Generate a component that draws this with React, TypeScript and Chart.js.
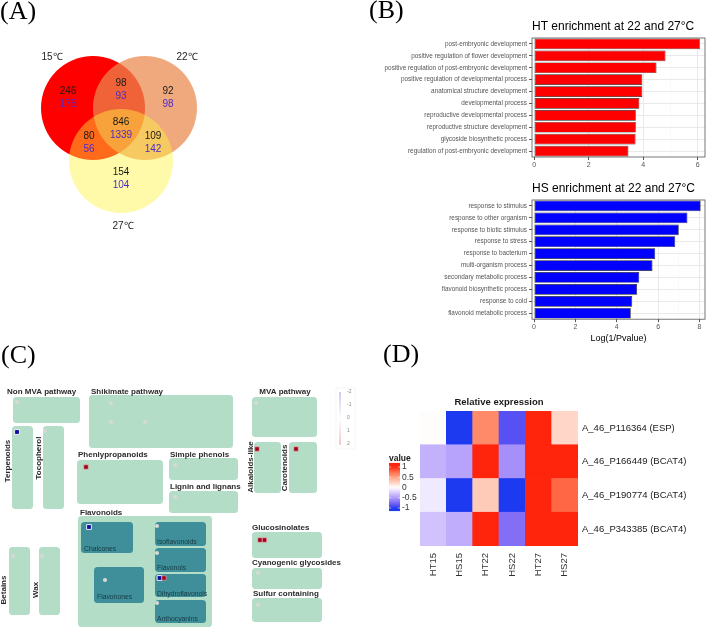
import React, { useEffect, useRef } from "react";
import { Chart, registerables } from "chart.js";

Chart.register(...registerables);

const FONT = "'Liberation Sans', Arial, Helvetica, sans-serif";
const SERIF = "'Liberation Serif', 'Times New Roman', serif";

// ---------------- Panel A : Venn ----------------
const vennSets = ["15℃", "22℃", "27℃"];
const vennCenterX = [93, 145, 121];
const vennCenterY = [108, 108, 161];
const vennRadius = [52, 52, 52];
const vennColors = ["rgba(255,0,0,1)", "rgba(234,136,77,0.73)", "rgba(255,243,61,0.44)"];
const vennSetLabelX = [52, 187, 123];
const vennSetLabelY = [57, 57, 226];
const vennRegionX = [68, 121, 168, 121, 89, 153, 121];
const vennRegionY = [91, 83, 91, 122, 136, 136, 172];
const vennCountsTop = [246, 98, 92, 846, 80, 109, 154];
const vennCountsBottom = [175, 93, 98, 1339, 56, 142, 104];

// ---------------- Panel B : enrichment ----------------
const htTerms = [
  "post-embryonic development",
  "positive regulation of flower development",
  "positive regulation of post-embryonic development",
  "positive regulation of developmental process",
  "anatomical structure development",
  "developmental process",
  "reproductive developmental process",
  "reproductive structure development",
  "glycoside biosynthetic process",
  "regulation of post-embryonic development",
];
const htValues = [6.08, 4.82, 4.49, 3.97, 3.97, 3.86, 3.73, 3.73, 3.72, 3.46];
const hsTerms = [
  "response to stimulus",
  "response to other organism",
  "response to biotic stimulus",
  "response to stress",
  "response to bacterium",
  "multi-organism process",
  "secondary metabolic process",
  "flavonoid biosynthetic process",
  "response to cold",
  "flavonoid metabolic process",
];
const hsValues = [8.06, 7.42, 7.0, 6.83, 5.86, 5.73, 5.09, 4.98, 4.75, 4.68];

// ---------------- Panel C : pathway map ----------------
const pwLightBoxes = [
  [13, 397, 80, 423], [89, 395, 233, 448], [252, 397, 317, 437],
  [12, 426, 33, 509], [43, 426, 64, 509], [77, 460, 163, 504],
  [169, 458, 238, 480], [169, 491, 238, 513], [254, 442, 281, 493],
  [289, 442, 317, 493], [78, 516, 212, 627], [9, 547, 30, 615],
  [39, 547, 60, 615], [252, 532, 322, 558], [252, 568, 322, 589],
  [252, 598, 322, 622],
];
const pwDarkBoxes = [
  [81, 522, 133, 553], [155, 522, 206, 546], [155, 548, 206, 572],
  [155, 574, 206, 597], [155, 600, 206, 623], [94, 567, 144, 603],
];
const pwTitles = [
  "Non MVA pathway", "Shikimate pathway", "Phenlypropanoids", "Simple phenols",
  "Lignin and lignans", "Flavonoids", "Glucosinolates", "Cyanogenic glycosides",
  "Sulfur containing",
];
const pwTitleX = [7, 91, 78, 170, 170, 80, 252, 252, 253];
const pwTitleY = [392, 392, 455, 455, 487, 513, 528, 563, 594];
const pwCenterTitles = ["MVA pathway"];
const pwCenterTitleX = [285];
const pwCenterTitleY = [392];
const pwVertTitles = ["Terpenoids", "Tocopherol", "Alkaloids-like", "Carotenoids", "Betains", "Wax"];
const pwVertX = [8, 39, 251, 285, 4, 36];
const pwVertY = [461, 458, 467, 468, 590, 590];
const pwSubTitles = ["Chalcones", "Isoflavonoids", "Flavonols", "Dihydroflavonols", "Anthocyanins", "Flavonones"];
const pwSubX = [84, 157, 157, 157, 157, 97];
const pwSubY = [549, 542, 568, 594, 619, 597];
const pwGreyDots = [
  [17, 402], [111, 403], [111, 422], [145, 422], [256, 403], [45, 431],
  [175, 465], [175, 497], [157, 526], [157, 553], [157, 603], [105, 580],
  [13, 556], [42, 556], [258, 573], [258, 605],
];
const pwUpGenes = [[86, 467], [257, 449], [296, 449], [260, 540], [264.5, 540], [164, 578]];
const pwDownGenes = [[17, 432], [89, 527], [159.5, 578]];
const pwLegendTicks = [-2, -1, 0, 1, 2];

// ---------------- Panel D : heatmap ----------------
const heatRows = ["A_46_P116364 (ESP)", "A_46_P166449 (BCAT4)", "A_46_P190774 (BCAT4)", "A_46_P343385 (BCAT4)"];
const heatCols = ["HT15", "HS15", "HT22", "HS22", "HT27", "HS27"];
const heatValues = [
  [0.01, -1.0, 0.62, -0.88, 1.0, 0.22],
  [-0.38, -0.45, 1.0, -0.55, 1.0, 1.0],
  [-0.1, -1.0, 0.28, -1.0, 1.0, 0.78],
  [-0.3, -0.4, 1.0, -0.72, 1.0, 1.0],
];
const heatLegendTicks = [1, 0.5, 0, -0.5, -1];

// ---------------- colour helpers ----------------
function srgbToLin(c: number) {
  c /= 255;
  return c <= 0.04045 ? c / 12.92 : Math.pow((c + 0.055) / 1.055, 2.4);
}
function linToSrgb(c: number) {
  const v = c <= 0.0031308 ? 12.92 * c : 1.055 * Math.pow(Math.max(c, 0), 1 / 2.4) - 0.055;
  return Math.round(Math.max(0, Math.min(1, v)) * 255);
}
function rgbToLab(rgb: number[]) {
  const R = srgbToLin(rgb[0]), G = srgbToLin(rgb[1]), B = srgbToLin(rgb[2]);
  const X = (0.4124 * R + 0.3576 * G + 0.1805 * B) / 0.95047;
  const Y = 0.2126 * R + 0.7152 * G + 0.0722 * B;
  const Z = (0.0193 * R + 0.1192 * G + 0.9505 * B) / 1.08883;
  const f = (t: number) => (t > 0.008856 ? Math.cbrt(t) : 7.787 * t + 16 / 116);
  const fx = f(X), fy = f(Y), fz = f(Z);
  return [116 * fy - 16, 500 * (fx - fy), 200 * (fy - fz)];
}
function labToRgb(lab: number[]) {
  const fy = (lab[0] + 16) / 116, fx = fy + lab[1] / 500, fz = fy - lab[2] / 200;
  const inv = (t: number) => (t * t * t > 0.008856 ? t * t * t : (t - 16 / 116) / 7.787);
  const X = inv(fx) * 0.95047, Y = inv(fy), Z = inv(fz) * 1.08883;
  const R = 3.2406 * X - 1.5372 * Y - 0.4986 * Z;
  const G = -0.9689 * X + 1.8758 * Y + 0.0415 * Z;
  const B = 0.0557 * X - 0.204 * Y + 1.057 * Z;
  return [linToSrgb(R), linToSrgb(G), linToSrgb(B)];
}
const HEAT_LOW = [30, 58, 240];
const HEAT_MID = [255, 255, 255];
const HEAT_HIGH = [255, 36, 12];
function heatColor(v: number) {
  const t = Math.max(-1, Math.min(1, v));
  const a = rgbToLab(HEAT_MID);
  const b = rgbToLab(t < 0 ? HEAT_LOW : HEAT_HIGH);
  const k = Math.abs(t);
  const rgb = labToRgb([a[0] + (b[0] - a[0]) * k, a[1] + (b[1] - a[1]) * k, a[2] + (b[2] - a[2]) * k]);
  return `rgb(${rgb[0]},${rgb[1]},${rgb[2]})`;
}

// ---------------- plugins ----------------
const vennText = {
  id: "vennText",
  afterDatasetsDraw(chart: any) {
    const { ctx } = chart;
    const xs = chart.scales.x, ys = chart.scales.y;
    ctx.save();
    ctx.textAlign = "center";
    ctx.textBaseline = "middle";
    ctx.font = `10px ${FONT}`;
    ctx.fillStyle = "#222";
    vennSets.forEach((s, i) => {
      ctx.fillText(s, xs.getPixelForValue(vennSetLabelX[i]), ys.getPixelForValue(vennSetLabelY[i]));
    });
    vennCountsTop.forEach((n, i) => {
      ctx.fillStyle = "#1a1a1a";
      ctx.fillText(String(n), xs.getPixelForValue(vennRegionX[i]), ys.getPixelForValue(vennRegionY[i]));
      ctx.fillStyle = "#4b2cc6";
      ctx.fillText(String(vennCountsBottom[i]), xs.getPixelForValue(vennRegionX[i]), ys.getPixelForValue(vennRegionY[i] + 13.5));
    });
    ctx.restore();
  },
};

const panelBorder = {
  id: "panelBorder",
  afterDatasetsDraw(chart: any) {
    const { ctx, chartArea: a } = chart;
    ctx.save();
    ctx.strokeStyle = "#555";
    ctx.lineWidth = 0.8;
    ctx.strokeRect(a.left, a.top, a.right - a.left, a.bottom - a.top);
    ctx.restore();
  },
};

const pathwayPlugin = {
  id: "pathwayPlugin",
  beforeDatasetsDraw(chart: any) {
    const { ctx } = chart;
    const xs = chart.scales.x, ys = chart.scales.y;
    const px = (v: number) => xs.getPixelForValue(v);
    const py = (v: number) => ys.getPixelForValue(v);
    const box = (b: number[], color: string) => {
      ctx.fillStyle = color;
      ctx.beginPath();
      ctx.roundRect(px(b[0]), py(b[1]), px(b[2]) - px(b[0]), py(b[3]) - py(b[1]), 3.5);
      ctx.fill();
    };
    ctx.save();
    pwLightBoxes.forEach((b) => box(b, "#b3ddc6"));
    pwDarkBoxes.forEach((b) => box(b, "#3f8f9b"));
    ctx.textBaseline = "middle";
    ctx.fillStyle = "#2b2b2b";
    ctx.font = `bold 8px ${FONT}`;
    ctx.textAlign = "left";
    pwTitles.forEach((t, i) => ctx.fillText(t, px(pwTitleX[i]), py(pwTitleY[i])));
    ctx.textAlign = "center";
    pwCenterTitles.forEach((t, i) => ctx.fillText(t, px(pwCenterTitleX[i]), py(pwCenterTitleY[i])));
    pwVertTitles.forEach((t, i) => {
      ctx.save();
      ctx.translate(px(pwVertX[i]), py(pwVertY[i]));
      ctx.rotate(-Math.PI / 2);
      ctx.fillText(t, 0, 0);
      ctx.restore();
    });
    ctx.textAlign = "left";
    ctx.font = `6.8px ${FONT}`;
    ctx.fillStyle = "#163a40";
    pwSubTitles.forEach((t, i) => ctx.fillText(t, px(pwSubX[i]), py(pwSubY[i])));
    // colour legend
    const lx = px(340);
    const y0 = py(392), y1 = py(445);
    const g = ctx.createLinearGradient(0, y0, 0, y1);
    g.addColorStop(0, "rgba(140,140,230,0.9)");
    g.addColorStop(0.5, "rgba(255,255,255,1)");
    g.addColorStop(1, "rgba(235,130,130,0.9)");
    ctx.strokeStyle = "#eeeeee";
    ctx.lineWidth = 0.6;
    ctx.strokeRect(px(336), py(388), px(355) - px(336), py(449) - py(388));
    ctx.strokeStyle = g;
    ctx.lineWidth = 1;
    ctx.beginPath();
    ctx.moveTo(lx, y0);
    ctx.lineTo(lx, y1);
    ctx.stroke();
    ctx.font = `5px ${FONT}`;
    ctx.fillStyle = "#888";
    pwLegendTicks.forEach((t, i) => {
      ctx.fillText(String(t), px(347), py(392 + i * 13));
    });
    ctx.restore();
  },
};

const heatLegend = {
  id: "heatLegend",
  afterDraw(chart: any) {
    const { ctx, chartArea: a } = chart;
    const bx = a.left - 31, bw = 11;
    const yOf = (v: number) => a.top + 76.5 - v * 20.5;
    const top = yOf(1.2), bottom = yOf(-1.15);
    ctx.save();
    const g = ctx.createLinearGradient(0, top, 0, bottom);
    for (let i = 0; i <= 20; i++) {
      const v = 1.2 - (2.35 * i) / 20;
      g.addColorStop(i / 20, heatColor(v));
    }
    ctx.fillStyle = g;
    ctx.fillRect(bx, top, bw, bottom - top);
    ctx.fillStyle = "#1a1a1a";
    ctx.font = `bold 8.5px ${FONT}`;
    ctx.textBaseline = "middle";
    ctx.textAlign = "left";
    ctx.fillText("value", bx, top - 4.5);
    ctx.font = `8.5px ${FONT}`;
    ctx.fillStyle = "#333";
    heatLegendTicks.forEach((t) => {
      const y = yOf(t);
      ctx.fillText(String(t), bx + bw + 2, y);
      ctx.strokeStyle = "#fff";
      ctx.lineWidth = 0.6;
      ctx.beginPath();
      ctx.moveTo(bx, y);
      ctx.lineTo(bx + 2, y);
      ctx.moveTo(bx + bw - 2, y);
      ctx.lineTo(bx + bw, y);
      ctx.stroke();
    });
    ctx.restore();
  },
};

// ---------------- chart builders ----------------
// Point-based controllers pad the chart area by the largest mark size; a fixed
// layout padding at least that big (with a canvas enlarged by it) keeps the
// chart area exactly where the scales expect it.
const VENN_PAD = 60;
const PW_PAD = 10;

function vennChart(canvas: HTMLCanvasElement) {
  return new Chart(canvas, {
    type: "bubble",
    data: {
      datasets: vennSets.map((s, i) => ({
        label: s,
        data: [{ x: vennCenterX[i], y: vennCenterY[i], r: vennRadius[i] }],
        backgroundColor: vennColors[i],
        borderWidth: 0,
        clip: false,
        order: vennSets.length - i,
      })),
    } as any,
    options: {
      responsive: false,
      animation: false,
      events: [],
      layout: { padding: VENN_PAD },
      plugins: { legend: { display: false }, tooltip: { enabled: false } },
      scales: {
        x: { type: "linear", display: false, min: 0, max: 240 },
        y: { type: "linear", display: false, min: 40, max: 240, reverse: true },
      },
    },
    plugins: [vennText],
  });
}

function enrichChart(
  canvas: HTMLCanvasElement,
  terms: string[],
  values: number[],
  color: string,
  title: string,
  min: number,
  max: number,
  axisTitle: boolean
) {
  return new Chart(canvas, {
    type: "bar",
    data: {
      labels: terms,
      datasets: [
        {
          data: values,
          backgroundColor: color,
          borderColor: "#222",
          borderWidth: 0.7,
          borderSkipped: false,
          barPercentage: 0.9,
          categoryPercentage: 1,
        },
      ],
    },
    options: {
      indexAxis: "y",
      responsive: false,
      animation: false,
      events: [],
      layout: { padding: { left: 0, right: 4, top: 0, bottom: axisTitle ? 2 : 0 } },
      plugins: {
        legend: { display: false },
        tooltip: { enabled: false },
        title: {
          display: true,
          fullSize: false,
          align: "start",
          text: title,
          color: "#000",
          font: { family: FONT, size: 12, weight: "normal" },
          padding: { top: 5, bottom: 4.6 },
        },
        subtitle: {
          display: axisTitle,
          fullSize: false,
          text: "Log(1/Pvalue)",
          position: "bottom",
          color: "#000",
          font: { family: FONT, size: 9, weight: "normal" },
          padding: { top: 0, bottom: 0 },
        },
      },
      scales: {
        x: {
          type: "linear",
          min,
          max,
          ticks: {
            stepSize: 1,
            includeBounds: false,
            autoSkip: false,
            maxRotation: 0,
            font: { family: FONT, size: 7 },
            color: "#555",
            padding: 1,
            callback: (v: any) => (Number(v) % 2 === 0 ? String(v) : ""),
          },
          grid: {
            color: (c: any) => (c.tick && Math.abs(c.tick.value % 2) === 1 ? "#f2f2f2" : "#e6e6e6"),
            lineWidth: (c: any) => (c.tick && Math.abs(c.tick.value % 2) === 1 ? 0.5 : 0.9),
            tickColor: (c: any) => (c.tick && Math.abs(c.tick.value % 2) === 1 ? "rgba(0,0,0,0)" : "#444"),
            tickLength: 3,
          },
          border: { display: false },
          afterFit: (s: any) => {
            s.height = 14;
          },
        },
        y: {
          type: "category",
          ticks: { font: { family: FONT, size: 6.4 }, color: "#555", padding: 2, autoSkip: false },
          grid: { offset: false, color: "#e6e6e6", lineWidth: 0.9, tickColor: "#444", tickLength: 3 },
          border: { display: false },
          afterFit: (s: any) => {
            s.width = 152;
          },
        },
      },
    } as any,
    plugins: [panelBorder],
  });
}

function pathwayChart(canvas: HTMLCanvasElement) {
  const pts = (arr: number[][]) => arr.map((p) => ({ x: p[0], y: p[1] }));
  return new Chart(canvas, {
    type: "scatter",
    data: {
      datasets: [
        { label: "no change", data: pts(pwGreyDots), pointStyle: "circle", pointRadius: 2.1, backgroundColor: "#d6d9d8", borderWidth: 0 },
        { label: "up", data: pts(pwUpGenes), pointStyle: "rect", pointRadius: 3.1, backgroundColor: "#a3001c", borderColor: "#e8b0b0", borderWidth: 0.6 },
        { label: "down", data: pts(pwDownGenes), pointStyle: "rect", pointRadius: 3.4, backgroundColor: "#0a0aa0", borderColor: "#ffffff", borderWidth: 0.9 },
      ],
    } as any,
    options: {
      responsive: false,
      animation: false,
      events: [],
      layout: { padding: PW_PAD },
      plugins: { legend: { display: false }, tooltip: { enabled: false } },
      scales: {
        x: { type: "linear", display: false, min: 0, max: 360 },
        y: { type: "linear", display: false, min: 340, max: 628, reverse: true },
      },
    },
    plugins: [pathwayPlugin],
  });
}

function heatChart(canvas: HTMLCanvasElement) {
  const nRows = heatRows.length;
  const datasets = heatRows
    .map((_, r) => ({
      label: heatRows[r],
      data: heatCols.map(() => 1),
      backgroundColor: heatValues[r].map((v) => heatColor(v)),
      borderWidth: 0,
      barPercentage: 1,
      categoryPercentage: 1,
    }))
    .reverse();
  const rowsBottomUp = heatRows.slice().reverse();
  return new Chart(canvas, {
    type: "bar",
    data: { labels: heatCols, datasets },
    options: {
      responsive: false,
      animation: false,
      events: [],
      layout: { padding: { left: 40, right: 0, top: 0, bottom: 0 } },
      plugins: {
        legend: { display: false },
        tooltip: { enabled: false },
        title: {
          display: true,
          fullSize: false,
          text: "Relative expression",
          color: "#1a1a1a",
          font: { family: FONT, size: 9.5, weight: "bold" },
          padding: { top: 6.3, bottom: 3.3 },
        },
      },
      scales: {
        x: {
          type: "category",
          stacked: true,
          ticks: { minRotation: 90, maxRotation: 90, font: { family: FONT, size: 9.5 }, color: "#333", padding: 7 },
          grid: { display: false, drawTicks: false },
          border: { display: false },
          afterFit: (s: any) => {
            s.height = 44;
          },
        },
        y: {
          type: "linear",
          stacked: true,
          position: "right",
          min: 0,
          max: nRows,
          afterBuildTicks: (s: any) => {
            s.ticks = rowsBottomUp.map((_, i) => ({ value: i + 0.5 }));
          },
          ticks: {
            font: { family: FONT, size: 9.5 },
            color: "#1a1a1a",
            padding: 4,
            callback: (v: any) => rowsBottomUp[Math.floor(Number(v))] || "",
          },
          grid: { display: false, drawTicks: false },
          border: { display: false },
          afterFit: (s: any) => {
            s.width = 131;
          },
        },
      },
    } as any,
    plugins: [heatLegend],
  });
}

const panelLabel = (left: number, top: number): React.CSSProperties => ({
  position: "absolute",
  left,
  top,
  fontFamily: SERIF,
  fontSize: 26,
  lineHeight: "26px",
  color: "#000",
  whiteSpace: "nowrap",
});

const abs = (left: number, top: number): React.CSSProperties => ({ position: "absolute", left, top });

export default function App() {
  const vennRef = useRef<HTMLCanvasElement>(null);
  const htRef = useRef<HTMLCanvasElement>(null);
  const hsRef = useRef<HTMLCanvasElement>(null);
  const pwRef = useRef<HTMLCanvasElement>(null);
  const heatRef = useRef<HTMLCanvasElement>(null);

  useEffect(() => {
    const charts: Chart[] = [];
    if (vennRef.current) charts.push(vennChart(vennRef.current));
    if (htRef.current)
      charts.push(enrichChart(htRef.current, htTerms, htValues, "#ff0000", "HT enrichment at 22 and 27°C", -0.08, 6.27, false));
    if (hsRef.current)
      charts.push(enrichChart(hsRef.current, hsTerms, hsValues, "#0000ff", "HS enrichment at 22 and 27°C", -0.1, 8.27, true));
    if (pwRef.current) charts.push(pathwayChart(pwRef.current));
    if (heatRef.current) charts.push(heatChart(heatRef.current));
    return () => charts.forEach((c) => c.destroy());
  }, []);

  return (
    <div style={{ position: "absolute", left: 0, top: 0, width: 709, height: 628, overflow: "hidden", background: "#fff" }}>
      <canvas
        ref={vennRef}
        width={240 + 2 * VENN_PAD}
        height={200 + 2 * VENN_PAD}
        style={abs(-VENN_PAD, 40 - VENN_PAD)}
      />
      <canvas ref={htRef} width={329} height={157} style={abs(380, 14)} />
      <canvas ref={hsRef} width={329} height={170} style={abs(380, 176)} />
      <canvas
        ref={pwRef}
        width={360 + 2 * PW_PAD}
        height={288 + 2 * PW_PAD}
        style={abs(-PW_PAD, 340 - PW_PAD)}
      />
      <canvas ref={heatRef} width={329} height={200} style={abs(380, 390)} />
      <div style={panelLabel(0, -2)}>(A)</div>
      <div style={panelLabel(369, -3)}>(B)</div>
      <div style={panelLabel(1, 342)}>(C)</div>
      <div style={panelLabel(383, 341)}>(D)</div>
    </div>
  );
}
